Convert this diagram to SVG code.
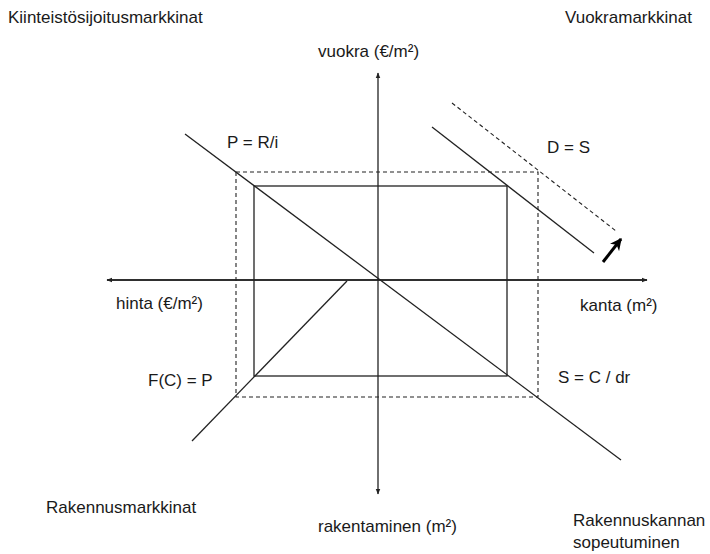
<svg xmlns="http://www.w3.org/2000/svg" width="710" height="554" viewBox="0 0 710 554">
<style>
text{font-family:"Liberation Sans",Arial,sans-serif;font-size:17px;fill:#1a1a1a}
.ln{stroke:#222;stroke-width:1.3;fill:none}
.ds{stroke:#222;stroke-width:1.1;fill:none;stroke-dasharray:4 3}
</style>
<defs>
<marker id="ah" viewBox="0 0 10 10" refX="9" refY="5" markerWidth="6" markerHeight="6" orient="auto" markerUnits="userSpaceOnUse"><path d="M0,1 L10,5 L0,9 z" fill="#222"/></marker>
<marker id="big" viewBox="0 0 10 10" refX="9" refY="5" markerWidth="12" markerHeight="12" orient="auto" markerUnits="userSpaceOnUse"><path d="M0,0 L10,5 L0,10 L3,5 z" fill="#000"/></marker>
</defs>
<rect width="710" height="554" fill="#fff"/>
<g id="connectors">
<line class="ln" x1="378" y1="493" x2="378" y2="73" marker-end="url(#ah)"/>
<line class="ln" x1="378" y1="493" x2="378" y2="494" marker-end="url(#ah)"/>
<line class="ln" x1="647" y1="280" x2="107" y2="280" marker-end="url(#ah)"/>
<line class="ln" x1="107" y1="280" x2="647" y2="280" marker-end="url(#ah)"/>
<line class="ln" x1="185" y1="134" x2="621" y2="460"/>
<rect class="ln" x="254" y="186" width="253" height="190"/>
<rect class="ds" x="236" y="172" width="302" height="225"/>
<line class="ln" x1="192" y1="441" x2="347" y2="281"/>
<line class="ln" x1="432" y1="127" x2="594" y2="253"/>
<line class="ds" x1="452" y1="103" x2="616" y2="231"/>
<line stroke="#000" stroke-width="3" x1="603" y1="262" x2="621" y2="239" marker-end="url(#big)"/>
</g>
<g id="labels">
<text x="8" y="23">Kiinteistösijoitusmarkkinat</text>
<text x="565" y="23">Vuokramarkkinat</text>
<text x="318" y="57">vuokra (€/m²)</text>
<text x="227" y="148">P = R/i</text>
<text x="547" y="153">D = S</text>
<text x="116" y="309">hinta (€/m²)</text>
<text x="580" y="311">kanta (m²)</text>
<text x="148" y="386">F(C) = P</text>
<text x="558" y="383">S = C / dr</text>
<text x="46" y="513">Rakennusmarkkinat</text>
<text x="318" y="532">rakentaminen (m²)</text>
<text x="573" y="526">Rakennuskannan</text>
<text x="573" y="548">sopeutuminen</text>
</g>
</svg>
